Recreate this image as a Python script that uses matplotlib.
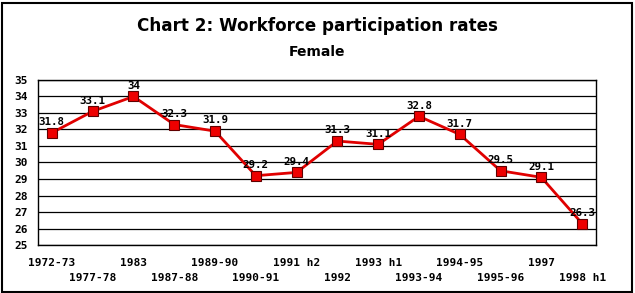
import matplotlib
matplotlib.use("Agg")
import matplotlib.pyplot as plt
from matplotlib.patches import Rectangle

categories = ["1972-73", "1977-78", "1983", "1987-88", "1989-90", "1990-91", "1991 h2",
              "1992", "1993 h1", "1993-94", "1994-95", "1995-96", "1997", "1998 h1"]
values = [31.8, 33.1, 34, 32.3, 31.9, 29.2, 29.4, 31.3, 31.1, 32.8, 31.7, 29.5, 29.1, 26.3]
labels = ["31.8", "33.1", "34", "32.3", "31.9", "29.2", "29.4", "31.3", "31.1", "32.8",
          "31.7", "29.5", "29.1", "26.3"]
yticks = list(range(25, 36))

fig = plt.figure(figsize=(6.35, 2.93), dpi=100)
fig.patch.set_facecolor("white")
fig.patches.append(Rectangle((0.003, 0.005), 0.992, 0.985, transform=fig.transFigure,
                             fill=False, edgecolor="black", linewidth=1.5))

ax = fig.add_axes([0.0598, 0.1638, 0.8788, 0.5632])
x = list(range(len(categories)))
ax.plot(x, values, color="#e00000", linewidth=2, marker="s", markersize=7,
        markerfacecolor="#ee0000", markeredgecolor="#600000", markeredgewidth=0.8, zorder=3)
for xi, v, lab in zip(x, values, labels):
    ax.text(xi, v + 0.35, lab, ha="center", va="bottom", fontsize=7.8,
            family="DejaVu Sans Mono", fontweight="bold", zorder=4)

ax.set_xlim(-0.34, len(categories) - 1 + 0.34)
ax.set_ylim(25, 35)
ax.set_yticks(yticks)
ax.set_yticklabels([str(t) for t in yticks], fontsize=8, family="DejaVu Sans Mono", fontweight="bold")
ax.yaxis.grid(True, color="black", linewidth=0.9)
ax.set_axisbelow(True)
ax.tick_params(axis="y", length=0, pad=7)
ax.set_xticks(x)
ax.set_xticklabels(["" for _ in x])
ax.tick_params(axis="x", length=0)
for xi, c in zip(x, categories):
    off = -0.11 if xi % 2 == 0 else -0.20
    ax.text(xi, off, c, transform=ax.get_xaxis_transform(), ha="center", va="center",
            fontsize=8, family="DejaVu Sans Mono", fontweight="bold")
for s in ax.spines.values():
    s.set_color("black")
    s.set_linewidth(1)

fig.text(0.5, 0.911, "Chart 2: Workforce participation rates", ha="center", va="center",
         fontsize=12.1, fontweight="bold", family="DejaVu Sans")
fig.text(0.5, 0.823, "Female", ha="center", va="center",
         fontsize=10, fontweight="bold", family="DejaVu Sans")

fig.savefig("out.png", dpi=100)
